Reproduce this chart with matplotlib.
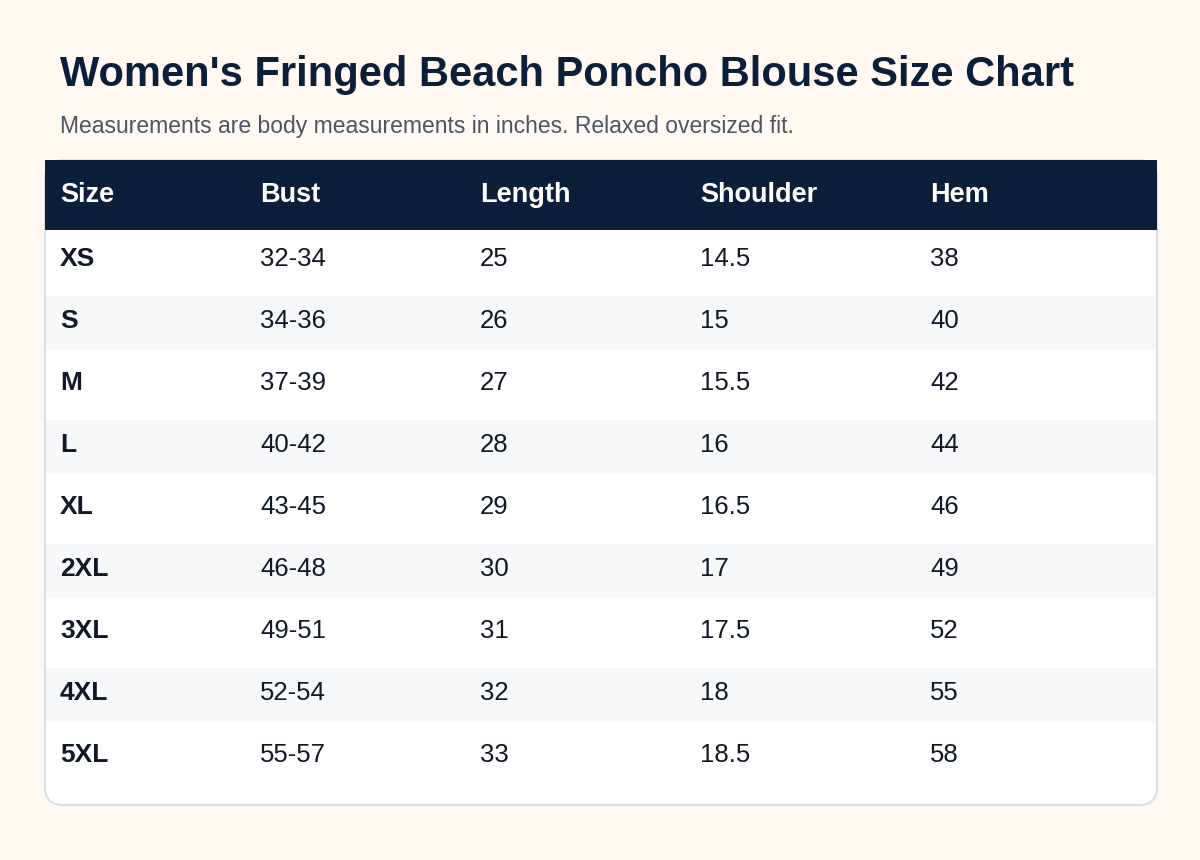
import matplotlib
matplotlib.use("Agg")
import matplotlib.pyplot as plt
from matplotlib.patches import FancyBboxPatch, Rectangle

plt.rcParams['font.family'] = ['Liberation Sans', 'DejaVu Sans']

title = "Women's Fringed Beach Poncho Blouse Size Chart"
subtitle = "Measurements are body measurements in inches. Relaxed oversized fit."
columns = ["Size", "Bust", "Length", "Shoulder", "Hem"]
sizes = ["XS", "S", "M", "L", "XL", "2XL", "3XL", "4XL", "5XL"]
bust = ["32-34", "34-36", "37-39", "40-42", "43-45", "46-48", "49-51", "52-54", "55-57"]
length = ["25", "26", "27", "28", "29", "30", "31", "32", "33"]
shoulder = ["14.5", "15", "15.5", "16", "16.5", "17", "17.5", "18", "18.5"]
hem = ["38", "40", "42", "44", "46", "49", "52", "55", "58"]

BG = "#fff9f2"
NAVY = "#0b1f3a"
TXT = "#111827"

fig = plt.figure(figsize=(12, 8.6), dpi=100, facecolor=BG)
ax = fig.add_axes([0, 0, 1, 1])
ax.set_xlim(0, 1200)
ax.set_ylim(860, 0)
ax.axis('off')

ax.text(60, 75, title, fontsize=30, fontweight='bold', color=NAVY, va='center', ha='left')
ax.text(60, 127, subtitle, fontsize=16.5, color="#4b5563", va='center', ha='left')

left, right, top, bottom = 45, 1157, 160, 805
card = FancyBboxPatch((left, top), right - left, bottom - top,
                      boxstyle="round,pad=0,rounding_size=18",
                      facecolor="white", edgecolor="#dde1e7", linewidth=1.5, zorder=1)
ax.add_patch(card)
ax.add_patch(Rectangle((left, top), right - left, 70, facecolor=NAVY, edgecolor='none', zorder=2))

col_x = [60, 260, 480, 700, 930]
for x, c in zip(col_x, columns):
    ax.text(x, 195, c, fontsize=19.5, fontweight='bold', color='white', va='center', ha='left', zorder=3)

row_h = 62
rows = list(zip(sizes, bust, length, shoulder, hem))
for i, r in enumerate(rows):
    y0 = 230 + i * row_h
    if i % 2 == 1:
        ax.add_patch(Rectangle((left + 1, y0 + 4), right - left - 2, row_h - 8,
                               facecolor="#f7f8fa", edgecolor='none', zorder=2))
    yc = y0 + 29
    for j, (x, v) in enumerate(zip(col_x, r)):
        ax.text(x, yc, v, fontsize=19 if j == 0 else 18.5, fontweight='bold' if j == 0 else 'normal',
                color=TXT, va='center', ha='left', zorder=3)

fig.savefig("out.png", dpi=100, facecolor=BG)
